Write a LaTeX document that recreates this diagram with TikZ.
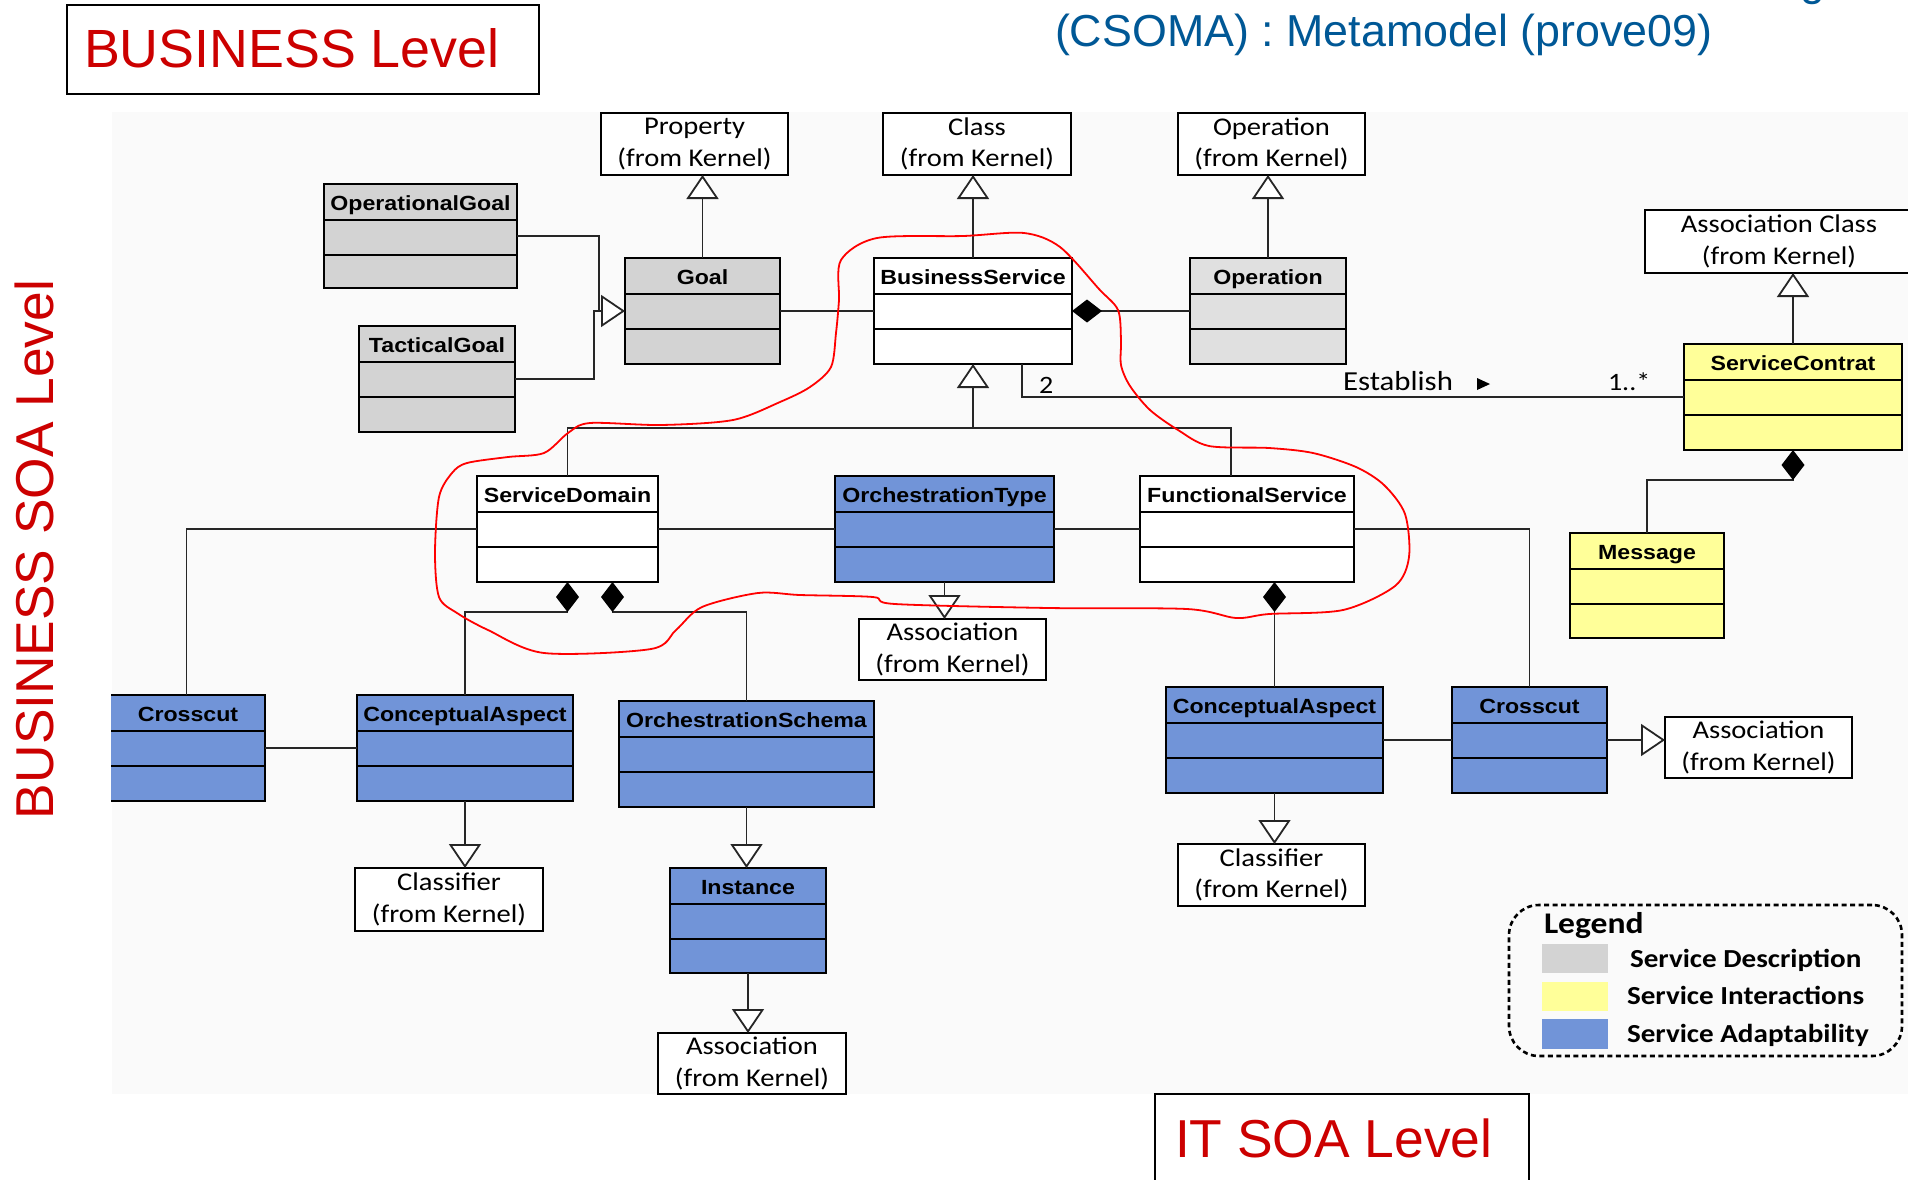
\documentclass[tikz,border=0pt]{standalone}
\usepackage{fontspec}
\setmainfont{Liberation Sans}
\newfontfamily\clsfont[FakeStretch=1.13]{Liberation Sans}
\newfontfamily\kfont[FakeStretch=1.12]{Carlito}
\usetikzlibrary{arrows.meta}
\definecolor{gG}{RGB}{211,211,211}
\definecolor{gOp}{RGB}{224,224,224}
\definecolor{yY}{RGB}{255,255,153}
\definecolor{bB}{RGB}{113,148,216}
\definecolor{redT}{RGB}{204,0,0}
\definecolor{blueT}{RGB}{0,88,150}
\definecolor{bgc}{RGB}{250,250,250}
\tikzset{
  every node/.style={inner sep=0pt, outer sep=0pt},
  boxline/.style={draw=black, line width=2.4pt},
  clstitle/.style={font={\clsfont\fontsize{20.5}{24}\selectfont\bfseries}},
  kstyle/.style={draw=black, line width=2pt, fill=white, align=center,
     font={\kfont\fontsize{25.5}{31.5}\selectfont}},
  ktext/.style={font={\kfont\fontsize{25}{30}\selectfont}},
  legtext/.style={font={\kfont\fontsize{26}{30}\selectfont\bfseries}},
  redlbl/.style={text=redT},
  conn/.style={draw=black!85, line width=1.6pt},
  gen/.style={conn, -{Triangle[open, fill=white, length=24pt, width=32pt, line width=1.8pt]}},
  comp/.style={conn, {Diamond[length=30pt, width=23pt, fill=black, color=black]}-},
  swatch/.style={minimum width=66pt, minimum height=29pt},
}
\newcommand\umlbox[7]{%
  \node[boxline, fill=#2, minimum width={(#5-#3)*1pt}, minimum height={(#6-#4)*1pt}] (#1) at ({(#3+#5)/2},{(#4+#6)/2}) {};
  \draw[boxline] ([yshift=-36pt]#1.north west) -- ([yshift=-36pt]#1.north east);
  \draw[boxline] ([yshift=-71pt]#1.north west) -- ([yshift=-71pt]#1.north east);
  \node[clstitle, anchor=base] (#1-t) at ([yshift=-26pt]#1.north) {#7};
}
\newcommand\kernbox[6]{%
  \node[kstyle, minimum width={(#4-#2)*1pt}, minimum height={(#5-#3)*1pt}] (#1) at ({(#2+#4)/2},{(#3+#5)/2}) {#6\\(from Kernel)};
}
\begin{document}
\begin{tikzpicture}[x=1pt,y=-1pt]
\useasboundingbox (0,0) rectangle (1908,1179);
\fill[white] (0,0) rectangle (1908,1179);
\fill[bgc] (112,112) rectangle (1908,1094);

% ---- headings
\node[draw=black, line width=2.6pt, fill=white, minimum width=472pt, minimum height=89pt] (bizbox) at (303,49.5) {};
\node[redlbl, font=\fontsize{53.8}{60}\selectfont, anchor=base west] (biztxt) at (84,67) {BUSINESS Level};
\node[text=blueT, font=\fontsize{44.8}{50}\selectfont, anchor=base west] (title) at (1055,46.5) {(CSOMA) : Metamodel (prove09)};
\node[text=blueT, font=\fontsize{44.5}{50}\selectfont, anchor=base west] (titleg) at (1800,-4.5) {g};
\node[redlbl, font=\fontsize{53.3}{60}\selectfont, anchor=base west, rotate=90] (soatxt) at (53,819) {BUSINESS SOA Level};
\node[draw=black, line width=2.6pt, fill=white, minimum width=374pt, minimum height=100pt] (itbox) at (1342,1144) {};
\node[redlbl, font=\fontsize{53.4}{60}\selectfont, anchor=base west] (ittxt) at (1175,1157) {IT SOA Level};

% ---- kernel boxes
\kernbox{kProp}{601}{113}{788}{175}{Property}
\kernbox{kClass}{883}{113}{1071}{175}{Class}
\kernbox{kOp}{1178}{113}{1365}{175}{Operation}
\kernbox{kAC}{1645}{210}{1913}{273}{Association Class}
\kernbox{kAm}{859}{619}{1046}{680}{Association}
\kernbox{kClL}{355}{868}{543}{931}{Classifier}
\kernbox{kAb}{658}{1033}{846}{1094}{Association}
\kernbox{kAr}{1665}{717}{1852}{778}{Association}
\kernbox{kClR}{1178}{844}{1365}{906}{Classifier}

% ---- UML classes
\umlbox{OG}{gG}{324}{184}{517}{288}{OperationalGoal}
\umlbox{TG}{gG}{359}{326}{515}{432}{TacticalGoal}
\umlbox{Goal}{gG}{625}{258}{780}{364}{Goal}
\umlbox{BS}{white}{874}{258}{1072}{364}{BusinessService}
\umlbox{Op}{gOp}{1190}{258}{1346}{364}{Operation}
\umlbox{SC}{yY}{1684}{344}{1902}{450}{ServiceContrat}
\umlbox{Msg}{yY}{1570}{533}{1724}{638}{Message}
\umlbox{SD}{white}{477}{476}{658}{582}{ServiceDomain}
\umlbox{OT}{bB}{835}{476}{1054}{582}{OrchestrationType}
\umlbox{FS}{white}{1140}{476}{1354}{582}{FunctionalService}
\begin{scope}
\clip (111,600) rectangle (400,900);
\umlbox{CrL}{bB}{108}{695}{265}{801}{}
\end{scope}
\node[clstitle, anchor=base] (CrL-lbl) at (188,721) {Crosscut};
\umlbox{CAL}{bB}{357}{695}{573}{801}{ConceptualAspect}
\umlbox{OS}{bB}{619}{701}{874}{807}{OrchestrationSchema}
\umlbox{Inst}{bB}{670}{868}{826}{973}{Instance}
\umlbox{CAR}{bB}{1166}{687}{1383}{793}{ConceptualAspect}
\umlbox{CrR}{bB}{1452}{687}{1607}{793}{Crosscut}

% ---- generalizations to kernel
\draw[gen] (Goal.north) -- (Goal.north |- kProp.south);
\draw[gen] (BS.north) -- (BS.north |- kClass.south);
\draw[gen] (Op.north) -- (Op.north |- kOp.south);
\draw[gen] (SC.north) -- (SC.north |- kAC.south);
\draw[gen] (OT.south) -- (OT.south |- kAm.north);
\draw[gen] (CAL.south) -- (CAL.south |- kClL.north);
\draw[gen] (OS.south) -- (OS.south |- Inst.north);
\draw[gen] (Inst.south) -- (Inst.south |- kAb.north);
\draw[gen] (CAR.south) -- (CAR.south |- kClR.north);
\draw[gen] (CrR.east) -- (CrR.east -| kAr.west);

% ---- goals
\coordinate (gj) at (599,311);
\draw[conn] (OG.east) -| (gj);
\draw[conn] (TG.east) -| ([xshift=-5pt]gj) -- (gj);
\draw[gen] (gj) -- (gj -| Goal.west);
\draw[conn] (Goal.east) -- (BS.west);
\draw[comp] (BS.east) -- (Op.west);

% ---- Establish
\draw[conn] ([xshift=49pt]BS.south) |- (SC.west);
\node[ktext, anchor=base west] (lbl2) at (1039,393) {2};
\node[font={\kfont\fontsize{27.5}{30}\selectfont}, anchor=base west] (lblEst) at (1343,390) {Establish};
\fill (1477,378) -- (1490,384) -- (1477,390) -- cycle;
\node[ktext, anchor=base west] (lblMul) at (1608,390) {1..*};
\draw[comp] (SC.south) -- ++(0,30) -| (Msg.north);

% ---- service hierarchy
\coordinate (hj) at (973,428);
\draw[gen] (hj) -- (BS.south);
\draw[conn] (SD.north) |- (hj) -| ([xshift=-16pt]FS.north);
\draw[conn] (SD.east) -- (OT.west);
\draw[conn] (OT.east) -- (FS.west);
\draw[conn] (SD.west) -| (CrL.north);
\draw[conn] (FS.east) -| (CrR.north);
\draw[comp] (SD.south) -- ++(0,30) -| (CAL.north);
\draw[comp] ([xshift=45pt]SD.south) -- ++(0,30) -| (OS.north);
\draw[comp] (CAR.north |- FS.south) -- (CAR.north);
\draw[conn] (CrL.east) -- (CAL.west);
\draw[conn] (CAR.east) -- (CrR.west);

% ---- legend
\node[draw=black, line width=2.6pt, dash pattern=on 5pt off 3.5pt, rounded corners=30pt, minimum width=393pt, minimum height=151pt] (leg) at (1705.5,980.5) {};
\node[font={\kfont\fontsize{30}{34}\selectfont\bfseries}, anchor=base west] (legT) at (1544,933) {Legend};
\node[swatch, fill=gG] (sw1) at (1575,958.5) {};
\node[swatch, fill=yY] (sw2) at (1575,996.5) {};
\node[swatch, fill=bB, minimum height=30pt] (sw3) at (1575,1034) {};
\node[legtext, anchor=base west] (lg1) at (1630,967) {Service Description};
\node[legtext, anchor=base west] (lg2) at (1627,1004) {Service Interactions};
\node[legtext, anchor=base west] (lg3) at (1627,1042) {Service Adaptability};

% ---- red freehand loop
\draw[red, line width=1.8pt] plot[smooth cycle, tension=0.5] coordinates {
(841,260) (877,238) (963,236) (1024,233) (1060,247) (1099,289) (1118,310) (1121,340) (1121,365) (1130,386) (1150,410) (1178,430) (1209,446) (1269,448) (1313,453) (1356,467) (1384,485) (1405,514) (1409,557) (1395,586) (1343,610) (1269,614) (1236,618) (1187,609) (1049,608) (895,604) (873,597) (800,595) (758,593) (702,607) (676,630) (651,649) (544,653) (488,630) (457,613) (439,597) (435,553) (439,497) (452,473) (467,463) (508,457) (544,453) (568,433) (590,423) (661,425) (733,420) (780,402) (810,387) (831,367) (836,333) (839,300)};
\end{tikzpicture}
\end{document}
